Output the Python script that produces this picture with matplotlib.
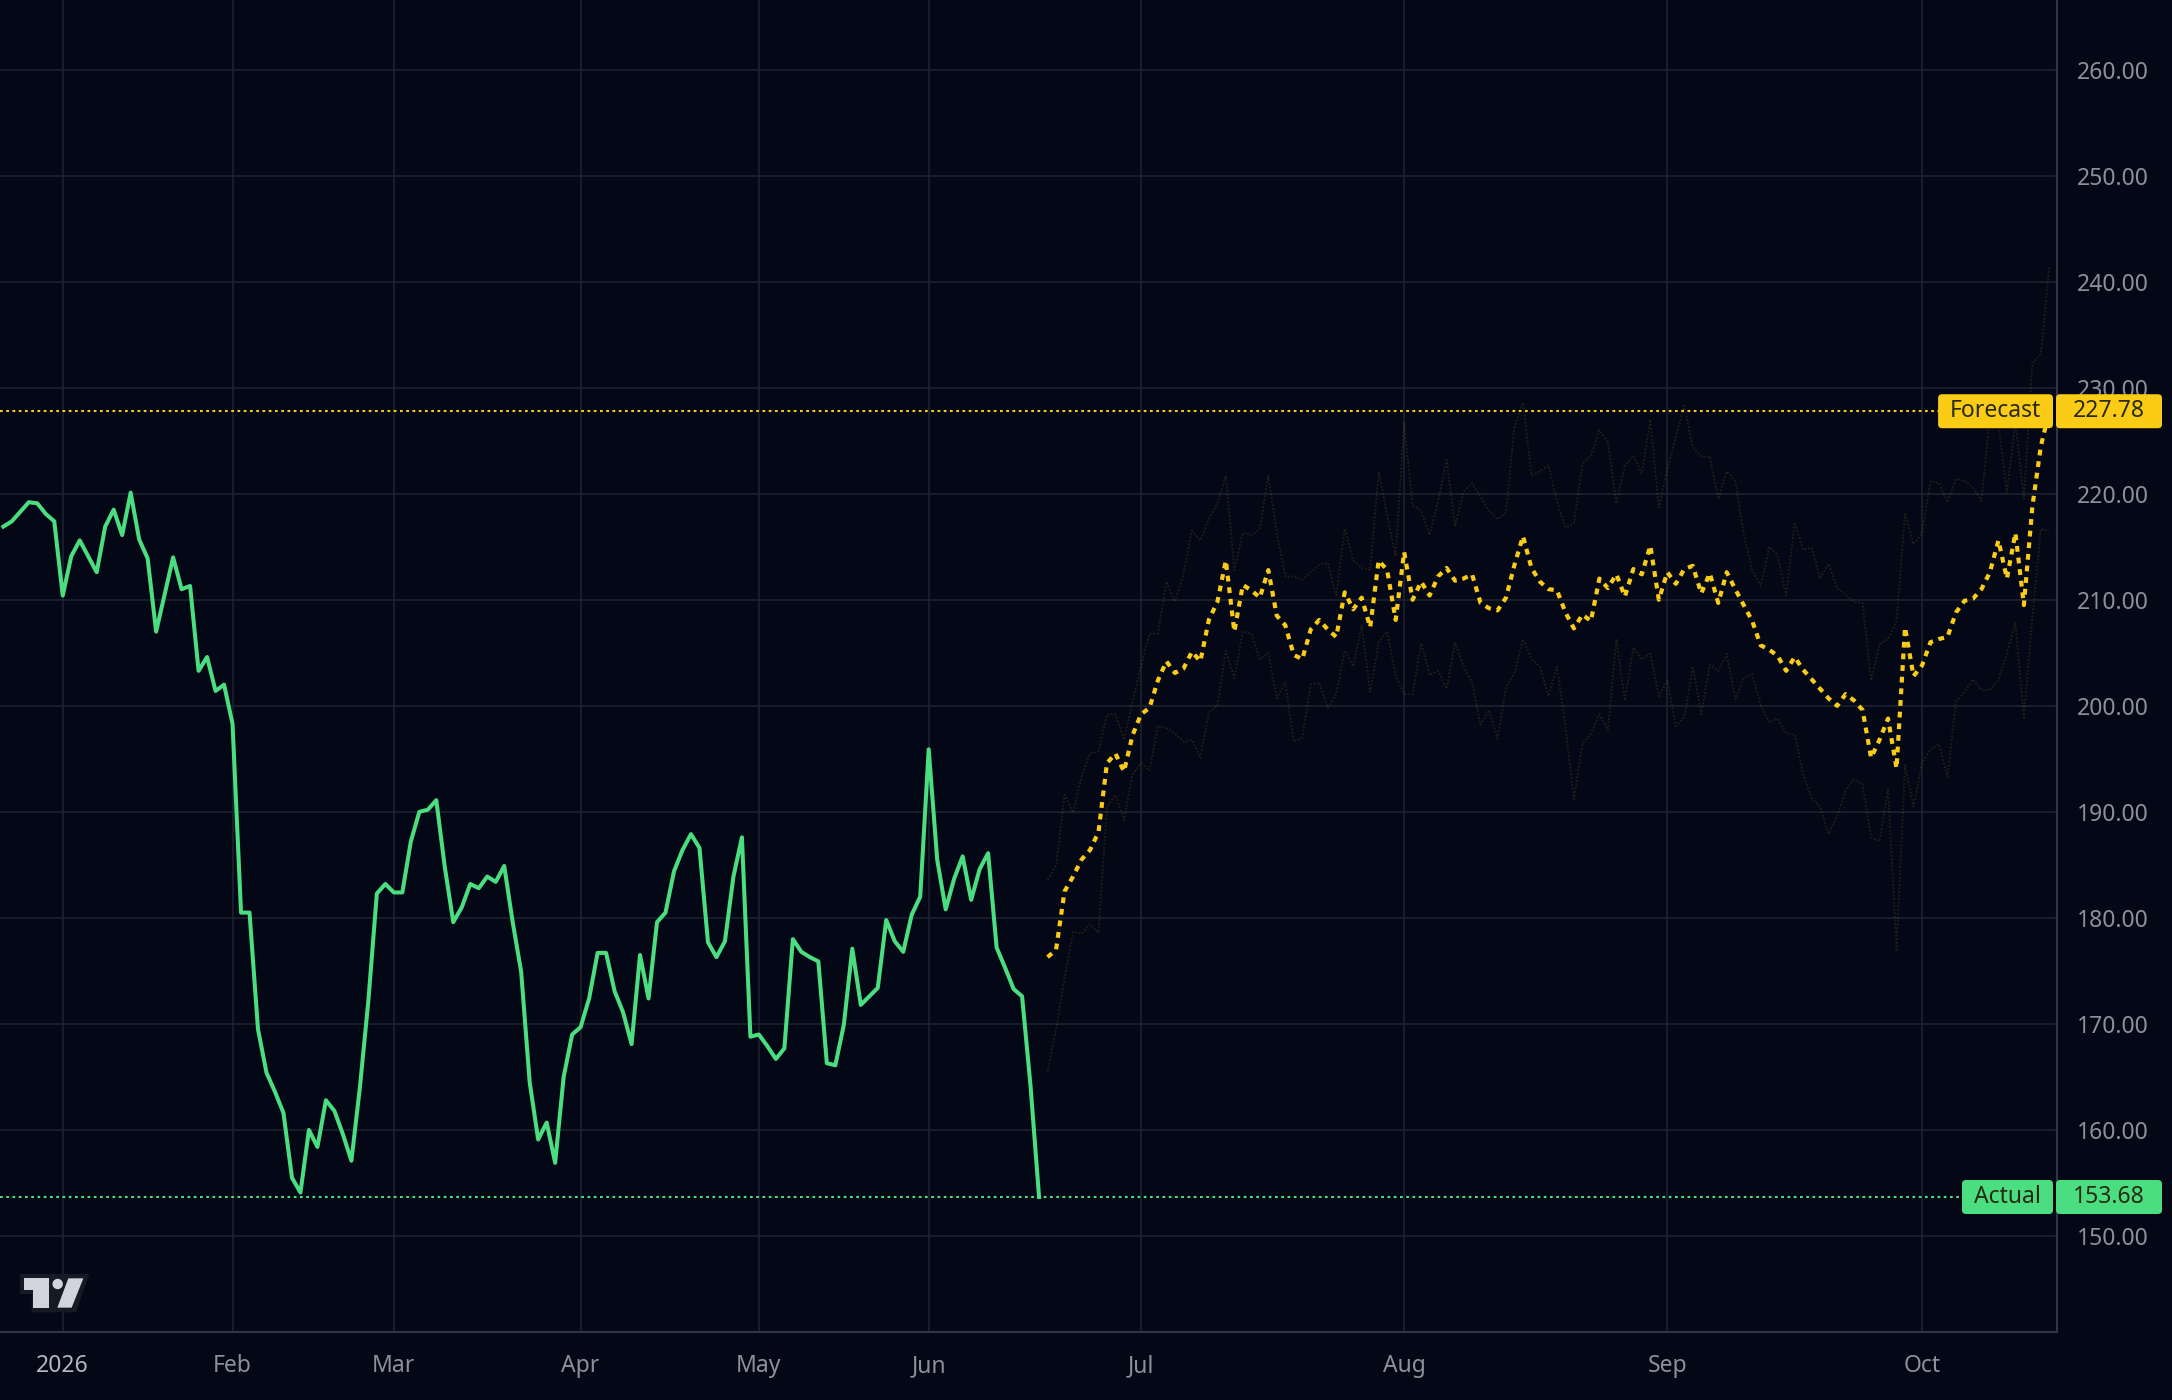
"""
Actual vs forecast price chart in the style of a dark trading terminal.
"""

import matplotlib

matplotlib.use("Agg")
import matplotlib.pyplot as plt
from matplotlib.patches import Circle, FancyBboxPatch, Polygon
from matplotlib.transforms import IdentityTransform

plt.rcParams["font.family"] = ["Noto Sans", "DejaVu Sans"]

# colours
BG = "#040816"
GRID = "#1c2230"
AXIS = "#2f3646"
TEXT = "#8b909a"
GREEN = "#4ade80"
YELLOW = "#facc15"

# month ticks (bar index of first trading day)
month_ticks = [7, 27, 46, 68, 89, 109, 134, 165, 196, 226]
month_labels = ["2026", "Feb", "Mar", "Apr", "May", "Jun", "Jul", "Aug", "Sep", "Oct"]
price_ticks = [150, 160, 170, 180, 190, 200, 210, 220, 230, 240, 250, 260]

# actual closes, one per bar starting at bar 0
actual_prices = [
    216.9, 217.4, 218.3, 219.2, 219.1, 218.1, 217.4, 210.4, 214.1, 215.6,
    214.1, 212.6, 216.9, 218.5, 216.1, 220.1, 215.7, 213.9, 207.0, 210.5,
    214.0, 211.0, 211.3, 203.3, 204.6, 201.4, 202.0, 198.3, 180.5, 180.5,
    169.5, 165.4, 163.6, 161.6, 155.5, 154.1, 160.0, 158.4, 162.8, 161.8,
    159.6, 157.1, 164.0, 172.2, 182.3, 183.2, 182.4, 182.4, 187.2, 190.0,
    190.2, 191.1, 184.8, 179.6, 181.0, 183.2, 182.8, 183.9, 183.4, 184.9,
    179.6, 174.9, 164.5, 159.1, 160.7, 156.9, 165.0, 169.0, 169.7, 172.4,
    176.7, 176.7, 173.1, 171.1, 168.1, 176.5, 172.4, 179.6, 180.5, 184.4,
    186.4, 187.9, 186.6, 177.7, 176.3, 177.8, 183.9, 187.6, 168.8, 169.0,
    167.9, 166.7, 167.7, 178.0, 176.8, 176.3, 175.9, 166.3, 166.1, 169.9,
    177.1, 171.8, 172.6, 173.4, 179.8, 177.8, 176.8, 180.3, 182.0, 195.9,
    185.5, 180.8, 183.7, 185.8, 181.7, 184.6, 186.1, 177.2, 175.3, 173.3,
    172.6, 164.1, 153.68,
]

# forecast path and its faint upper / lower paths, starting right after actuals
forecast_prices = [
    176.3, 177.0, 182.5, 183.9, 185.5, 186.4, 188.1, 194.6, 195.5, 193.8,
    197.2, 199.2, 199.8, 202.4, 204.2, 203.1, 203.5, 205.1, 204.2, 208.1,
    209.8, 213.7, 207.0, 211.4, 210.9, 210.2, 212.8, 208.5, 207.6, 204.8,
    204.4, 207.2, 208.1, 207.2, 206.5, 210.7, 209.1, 210.2, 207.4, 213.7,
    212.8, 208.1, 214.5, 210.0, 211.7, 210.4, 212.2, 213.0, 211.8, 212.0,
    212.4, 209.7, 209.2, 209.0, 210.2, 213.3, 216.0, 213.0, 211.7, 211.0,
    210.9, 208.8, 207.3, 208.6, 208.0, 212.0, 211.1, 212.4, 210.3, 212.9,
    212.4, 215.1, 210.0, 212.6, 211.5, 212.9, 213.2, 210.6, 212.5, 209.7,
    212.6, 211.0, 209.5, 208.0, 205.7, 205.3, 204.7, 203.3, 204.6, 203.4,
    202.5, 201.6, 200.7, 200.0, 201.1, 200.5, 199.6, 195.1, 196.8, 198.8,
    194.1, 207.4, 202.8, 203.8, 206.0, 206.3, 206.5, 208.8, 209.9, 210.1,
    211.0, 212.6, 215.6, 212.0, 216.3, 209.5, 218.8, 224.5, 227.78,
]

upper_prices = [
    183.6, 184.9, 191.6, 189.9, 193.3, 195.5, 195.7, 199.2, 199.2, 196.8,
    200.3, 203.7, 206.8, 206.8, 211.7, 209.8, 212.4, 216.5, 215.6, 217.6,
    219.1, 221.7, 212.8, 216.3, 216.1, 216.7, 221.7, 216.3, 212.2, 212.2,
    211.9, 212.6, 213.3, 213.5, 210.4, 216.7, 213.7, 213.0, 212.8, 222.1,
    218.0, 214.1, 226.7, 218.9, 218.4, 216.1, 219.3, 223.2, 216.9, 220.2,
    221.0, 219.7, 218.4, 217.6, 218.2, 226.4, 228.6, 221.7, 222.1, 222.7,
    219.3, 216.8, 217.2, 222.8, 223.6, 226.0, 224.9, 219.1, 222.6, 223.6,
    221.9, 227.0, 218.7, 222.3, 225.4, 228.3, 224.4, 223.5, 223.5, 219.5,
    222.1, 221.2, 216.2, 212.8, 211.3, 215.0, 214.2, 210.4, 217.3, 214.7,
    214.9, 212.0, 213.4, 211.1, 210.5, 209.8, 209.7, 202.4, 205.8, 206.3,
    208.0, 218.1, 215.2, 216.3, 221.2, 221.0, 219.2, 221.4, 221.2, 220.6,
    219.3, 227.3, 226.6, 220.1, 226.9, 219.5, 232.3, 233.2, 241.5,
]

lower_prices = [
    165.5, 169.5, 174.3, 178.7, 178.5, 179.4, 178.6, 190.5, 191.6, 189.2,
    193.5, 194.6, 193.9, 198.1, 197.9, 197.4, 196.6, 196.8, 195.1, 199.4,
    200.0, 205.2, 202.6, 207.0, 206.8, 204.4, 205.0, 200.7, 202.2, 196.6,
    197.0, 202.0, 202.2, 199.8, 201.1, 205.2, 203.7, 207.6, 201.3, 206.0,
    207.0, 202.9, 201.1, 201.1, 205.9, 202.9, 203.3, 201.6, 206.0, 203.7,
    202.2, 198.2, 199.6, 196.9, 201.8, 203.1, 206.3, 204.4, 203.7, 200.9,
    203.7, 198.1, 191.2, 196.4, 197.4, 199.2, 197.7, 206.3, 200.5, 205.5,
    204.4, 204.9, 200.9, 202.4, 198.1, 198.9, 203.7, 199.2, 203.9, 203.3,
    204.9, 200.6, 202.6, 203.0, 200.0, 198.5, 198.8, 197.4, 197.3, 193.5,
    191.3, 190.5, 187.9, 189.6, 192.0, 193.1, 192.6, 187.6, 187.2, 192.2,
    177.0, 194.4, 190.5, 194.6, 195.9, 196.4, 193.3, 200.4, 201.3, 202.5,
    201.5, 201.5, 202.4, 205.0, 207.8, 198.9, 208.4, 216.7, 216.5,
]


def draw_tag(fig, ax, value, name, name_left, color):
    """Price tag on the right edge: name box inside the plot, value box on the axis."""
    y_px = ax.transData.transform((0, value))[1]
    x_axis = ax.transAxes.transform((1, 0))[0]
    x_name = ax.transAxes.transform((name_left, 0))[0]
    h = 34
    name_box = FancyBboxPatch(
        (x_name, y_px - h / 2), x_axis - 4 - x_name, h,
        boxstyle="round,pad=0,rounding_size=4",
        transform=IdentityTransform(), facecolor=color, edgecolor="none", zorder=10,
    )
    value_box = FancyBboxPatch(
        (x_axis - 1, y_px - h / 2), 106, h,
        boxstyle="round,pad=0,rounding_size=4",
        transform=IdentityTransform(), facecolor=color, edgecolor="none", zorder=10,
    )
    fig.add_artist(name_box)
    fig.add_artist(value_box)
    fig.text((x_name + x_axis - 4) / 2, y_px, name, transform=IdentityTransform(),
             ha="center", va="center", fontsize=16.5, color="#2a2a14", zorder=11)
    fig.text(x_axis + 52, y_px, f"{value:.2f}", transform=IdentityTransform(),
             ha="center", va="center", fontsize=16.5, color="#2a2a14", zorder=11)


def draw_logo(fig):
    """Small TradingView style logo in the lower left corner."""
    H = 1400

    def pts(coords):
        return [(x / 3, H - (1250 + y / 3)) for x, y in coords]

    outline = Polygon(pts([(60, 72), (268, 72), (228, 187), (95, 187), (95, 132), (60, 132)]),
                      closed=True, transform=IdentityTransform(), facecolor="#161a25",
                      edgecolor="none", zorder=12)
    tee = Polygon(pts([(72, 85), (148, 85), (148, 173), (100, 173), (100, 120), (72, 120)]),
                  closed=True, transform=IdentityTransform(), facecolor="#d1d4dc",
                  edgecolor="none", zorder=13)
    slash = Polygon(pts([(205, 85), (250, 85), (215, 173), (172, 173)]),
                    closed=True, transform=IdentityTransform(), facecolor="#d1d4dc",
                    edgecolor="none", zorder=13)
    dot = Circle((173 / 3, H - (1250 + 102 / 3)), 5.2, transform=IdentityTransform(),
                 facecolor="#d1d4dc", edgecolor="none", zorder=13)
    for patch in (outline, tee, slash, dot):
        fig.add_artist(patch)


def plot_chart():
    fig = plt.figure(figsize=(21.72, 14), dpi=100, facecolor=BG)
    ax = fig.add_axes([0, 68 / 1400, 2057 / 2172, 1332 / 1400])
    ax.set_facecolor(BG)

    actual_x = list(range(len(actual_prices)))
    start = len(actual_prices)
    forecast_x = list(range(start, start + len(forecast_prices)))

    band_style = dict(color=YELLOW, alpha=0.12, lw=1.3, linestyle=(0, (1, 1)), zorder=2)
    ax.plot(forecast_x, upper_prices, **band_style)
    ax.plot(forecast_x, lower_prices, **band_style)
    ax.plot(forecast_x, forecast_prices, color=YELLOW, lw=3.0,
            linestyle=(0, (1.4, 1.4)), zorder=4)
    ax.plot(actual_x, actual_prices, color=GREEN, lw=2.9, zorder=5,
            solid_joinstyle="round")

    # last value guides
    ax.axhline(forecast_prices[-1], xmin=0, xmax=0.943, color=YELLOW, lw=1.5,
               linestyle=(0, (1.3, 1.7)), zorder=3)
    ax.axhline(actual_prices[-1], xmin=0, xmax=0.954, color=GREEN, lw=1.5,
               linestyle=(0, (1.3, 1.7)), zorder=3)

    ax.set_xlim(-0.39, 241.9)
    ax.set_ylim(140.95, 266.56)

    ax.set_xticks(month_ticks)
    ax.set_xticklabels(month_labels)
    ax.set_yticks(price_ticks)
    ax.set_yticklabels([f"{p:.2f}" for p in price_ticks])
    ax.yaxis.tick_right()
    ax.tick_params(axis="y", length=0, pad=14, labelsize=16.5, labelcolor=TEXT)
    ax.tick_params(axis="x", length=0, pad=16, labelsize=16.5, labelcolor=TEXT)
    first = ax.get_xticklabels()[0]
    first.set_fontweight("bold")
    first.set_color("#b4b7c0")

    ax.grid(True, color=GRID, lw=1.2)
    ax.set_axisbelow(True)
    for side in ("top", "left"):
        ax.spines[side].set_visible(False)
    for side in ("bottom", "right"):
        ax.spines[side].set_color(AXIS)
        ax.spines[side].set_linewidth(1.5)

    draw_tag(fig, ax, forecast_prices[-1], "Forecast", 0.9422, YELLOW)
    draw_tag(fig, ax, actual_prices[-1], "Actual", 0.9538, GREEN)
    draw_logo(fig)

    fig.savefig("out.png", dpi=100, facecolor=BG)


if __name__ == "__main__":
    plot_chart()
